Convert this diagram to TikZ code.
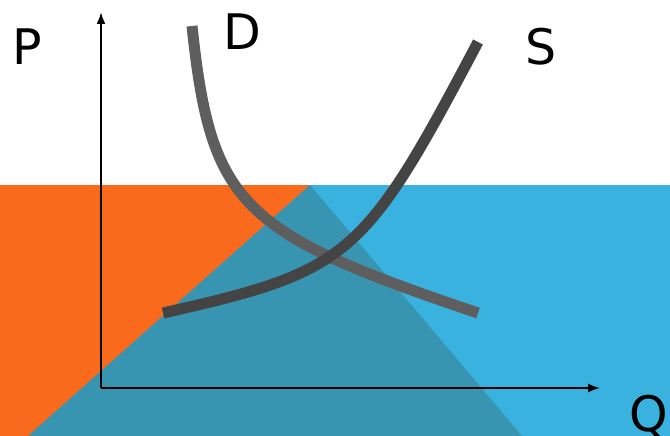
\documentclass[tikz,border=0pt]{standalone}
\usepackage{fontspec}
\setmainfont{DejaVu Sans}
\usepackage{xcolor}
\usepackage{tikz}
\usetikzlibrary{arrows.meta}

\definecolor{surplusorange}{HTML}{F96A1D}
\definecolor{marketblue}{HTML}{3AB2E0}
\definecolor{wedgeteal}{HTML}{3895B1}
\definecolor{demandgray}{HTML}{5E5E5E}
\definecolor{supplygray}{HTML}{444444}

\begin{document}
\begin{tikzpicture}[x=1pt, y=-1pt,
      label/.style={anchor=base, inner sep=0pt, font=\fontsize{49}{49}\selectfont},
      axis/.style={line width=2pt, -{Latex[length=12pt, width=9pt]}},
      curve/.style={line width=11pt, line cap=butt},
    ]
    \useasboundingbox (0,0) rectangle (670,436);

    % Areas
    \fill[surplusorange] (0,185) rectangle (310,436);
    \fill[marketblue] (310,185) rectangle (670,436);
    \fill[wedgeteal] (310,185) -- (28,436) -- (522,436) -- cycle;

    % Axes
    \coordinate (origin) at (101,388);
    \coordinate (ptop) at (101,12);
    \coordinate (qend) at (600,388);
    \draw[axis] (origin) -- (ptop);
    \draw[axis] (origin) -- (qend);

    % Demand
    \coordinate (dstart) at (192,26);
    \coordinate (dend) at (478,313);
    \draw[curve, demandgray] (dstart) .. controls (211,205) and (240,233) .. (dend);

    % Supply
    \coordinate (sstart) at (163,313);
    \coordinate (send) at (478,42);
    \draw[curve, supplygray] (sstart) .. controls (350,271) and (364,258) .. (send);

    % Labels
    \node[label] (plabel) at (27,65) {P};
    \node[label] (dlabel) at (242,50) {D};
    \node[label] (slabel) at (541,65) {S};
    \node[label] (qlabel) at (649,431) {Q};

  \end{tikzpicture}
\end{document}
